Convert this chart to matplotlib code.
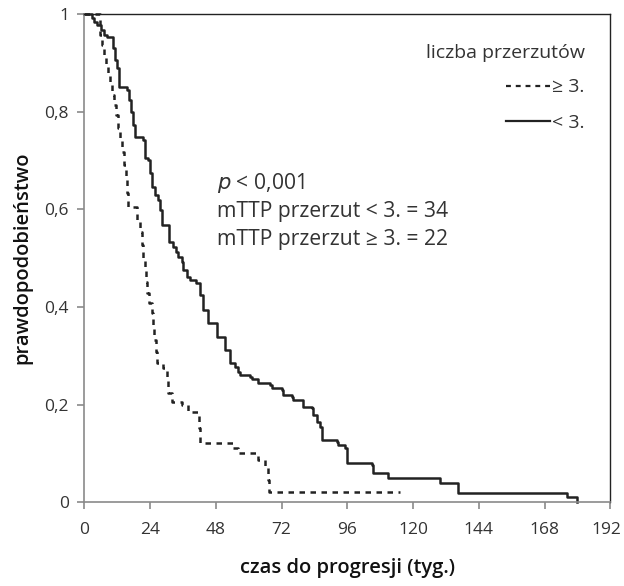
#Kaplan-Meier style curves: time to progression by number of metastases

import matplotlib
matplotlib.use('Agg')
import matplotlib.pyplot as plt
import matplotlib.transforms as mtransforms
from matplotlib.lines import Line2D

plt.rcParams['font.family'] = ['Open Sans', 'DejaVu Sans']

#time (weeks) and survival for patients with < 3 metastases
solid_t = [0, 2.9, 3.7, 4.8, 6.2, 7.3, 8.4, 10.6, 11.3, 12.1, 12.8, 15.7, 16.4,
           17.2, 17.9, 18.6, 21.5, 22.3, 23.4, 24.1, 24.8, 25.9, 27.0, 27.7,
           28.5, 31.0, 32.5, 33.6, 34.3, 35.8, 36.1, 37.6, 38.7, 40.9, 42.3,
           43.4, 45.3, 48.6, 51.5, 53.3, 55.1, 56.2, 56.9, 60.6, 61.3, 63.5,
           67.9, 68.6, 72.3, 72.6, 75.9, 76.3, 79.9, 83.2, 83.6, 85.1, 86.1,
           86.9, 92.4, 92.7, 95.3, 96.0, 105.1, 105.5, 111.0, 130.0, 136.5,
           176.3, 180.0]
solid_s = [1.0, 0.992, 0.984, 0.977, 0.967, 0.957, 0.953, 0.930, 0.906, 0.889,
           0.850, 0.844, 0.824, 0.799, 0.773, 0.748, 0.742, 0.705, 0.701,
           0.674, 0.645, 0.629, 0.619, 0.598, 0.568, 0.533, 0.523, 0.512,
           0.502, 0.492, 0.475, 0.461, 0.455, 0.449, 0.424, 0.393, 0.367,
           0.338, 0.311, 0.285, 0.277, 0.266, 0.260, 0.256, 0.252, 0.244,
           0.240, 0.234, 0.230, 0.219, 0.215, 0.209, 0.195, 0.193, 0.178,
           0.164, 0.154, 0.127, 0.123, 0.117, 0.111, 0.080, 0.076, 0.059,
           0.049, 0.039, 0.018, 0.010, 0.0]

#time (weeks) and survival for patients with >= 3 metastases
dash_t = [0, 5.8, 6.6, 7.3, 8.0, 8.8, 9.5, 10.2, 11.0, 11.7, 12.4, 13.1, 13.9,
          14.6, 15.3, 15.7, 16.1, 19.4, 20.4, 21.2, 21.5, 22.3, 22.6, 23.0,
          23.7, 24.8, 25.2, 25.6, 26.3, 26.5, 28.8, 30.3, 30.5, 32.1, 35.8,
          38.0, 41.6, 42.0, 42.3, 54.4, 56.2, 63.5, 66.1, 67.2, 67.5, 115.3]
dash_s = [1.0, 0.957, 0.936, 0.916, 0.895, 0.875, 0.855, 0.834, 0.814, 0.793,
          0.766, 0.742, 0.717, 0.691, 0.660, 0.633, 0.604, 0.578, 0.553,
          0.527, 0.500, 0.475, 0.451, 0.428, 0.408, 0.387, 0.359, 0.332,
          0.307, 0.285, 0.275, 0.250, 0.223, 0.205, 0.199, 0.184, 0.178,
          0.152, 0.121, 0.111, 0.100, 0.086, 0.072, 0.045, 0.020, 0.020]

x_ticks = [0, 24, 48, 72, 96, 120, 144, 168, 192]
y_ticks = [0, 0.2, 0.4, 0.6, 0.8, 1.0]
y_tick_labels = ['0', '0,2', '0,4', '0,6', '0,8', '1']

legend_title = 'liczba przerzutów'
legend_labels = ['≥ 3.', '< 3.']
note_lines = ['$p$ < 0,001', 'mTTP przerzut < 3. = 34', 'mTTP przerzut ≥ 3. = 22']

text_col = '#333333'
gray = '#8a8a8a'

fig = plt.figure(figsize=(6.24, 5.86), dpi=100)
ax = fig.add_axes([0.135, 0.143, 0.843, 0.833])

ax.step(dash_t, dash_s, where='post', color='#222222', lw=1.8,
        linestyle=(0, (2.2, 2.2)), clip_on=False)
ax.step(solid_t, solid_s, where='post', color='#222222', lw=1.8, clip_on=False)

ax.set_xlim(0, 192)
ax.set_ylim(0, 1)
ax.set_xticks(x_ticks)
ax.set_yticks(y_ticks)
ax.set_yticklabels(y_tick_labels)

#gray axis lines on left/bottom, dark frame on top/right
for side in ['left', 'bottom']:
    ax.spines[side].set_color(gray)
    ax.spines[side].set_linewidth(1.2)
for side in ['top', 'right']:
    ax.spines[side].set_color('#222222')
    ax.spines[side].set_linewidth(1.0)

ax.tick_params(axis='both', direction='out', length=5, width=1.2, color=gray,
               labelsize=12.5, labelcolor=text_col)
ax.tick_params(axis='x', pad=9)
ax.tick_params(axis='y', pad=6)

#nudge the last x label left so it stays inside the canvas
last_lbl = ax.get_xticklabels()[-1]
last_lbl.set_transform(last_lbl.get_transform() +
                       mtransforms.ScaledTranslation(-4 / 100, 0, fig.dpi_scale_trans))

ax.set_xlabel('czas do progresji (tyg.)', fontsize=14.5, fontweight='semibold',
              color='#111111', labelpad=15)
ax.set_ylabel('prawdopodobieństwo', fontsize=14.5, fontweight='semibold',
              color='#111111', labelpad=9)

#p-value and median time notes
for i, line in enumerate(note_lines):
    ax.text(48.5, 0.654 - i * 0.0575, line, fontsize=15.2, color=text_col,
            va='center', ha='left')

handles = [Line2D([], [], color='#222222', lw=1.6, linestyle=(0, (2.2, 2.2))),
           Line2D([], [], color='#222222', lw=1.6)]
leg = ax.legend(handles, legend_labels, title=legend_title, loc='upper right',
                bbox_to_anchor=(0.985, 0.975), frameon=False, fontsize=14,
                title_fontsize=14, handlelength=2.3, handletextpad=0.1,
                labelspacing=0.9, alignment='right', markerfirst=True)
leg.get_title().set_color(text_col)
for t in leg.get_texts():
    t.set_color(text_col)
leg._legend_box.sep = 12

fig.savefig('out.png', dpi=100)
